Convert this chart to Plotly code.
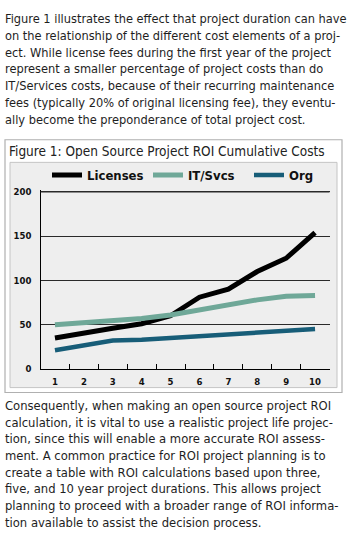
import plotly.graph_objects as go

years = ["1", "2", "3", "4", "5", "6", "7", "8", "9", "10"]
licenses = [35, 41, 46, 51, 60, 81, 90, 110, 125, 154]
it_svcs = [50, 52, 54, 57, 61, 67, 73, 78, 82, 83]
org = [21, 27, 32, 33, 35, 37, 39, 41, 43, 45]
y_ticks = [0, 50, 100, 150, 200]

W, H = 350, 549
FONT = "Liberation Sans Narrow, DejaVu Sans Condensed, Arial Narrow, sans-serif"
TXT = "#1e1e1e"

top_lines = ["Figure 1 illustrates the effect that project duration can have",
             "on the relationship of the different cost elements of a proj-",
             "ect. While license fees during the first year of the project",
             "represent a smaller percentage of project costs than do",
             "IT/Services costs, because of their recurring maintenance",
             "fees (typically 20% of original licensing fee), they eventu-",
             "ally become the preponderance of total project cost."]
bottom_lines = ["Consequently, when making an open source project ROI",
                "calculation, it is vital to use a realistic project life projec-",
                "tion, since this will enable a more accurate ROI assess-",
                "ment. A common practice for ROI project planning is to",
                "create a table with ROI calculations based upon three,",
                "five, and 10 year project durations. This allows project",
                "planning to proceed with a broader range of ROI informa-",
                "tion available to assist the decision process."]

def px(x):
    return x / W

def py(y):
    return 1 - y / H

fig = go.Figure()
fig.add_trace(go.Scatter(x=years, y=licenses, name="Licenses", mode="lines",
                         line=dict(color="#000000", width=5)))
fig.add_trace(go.Scatter(x=years, y=it_svcs, name="IT/Svcs", mode="lines",
                         line=dict(color="#6fa898", width=5)))
fig.add_trace(go.Scatter(x=years, y=org, name="Org", mode="lines",
                         line=dict(color="#175d78", width=4.5)))

shapes = [
    dict(type="rect", xref="paper", yref="paper", x0=px(5), x1=px(342), y0=py(395), y1=py(138),
         line=dict(color="#b0b0b0", width=1.2), fillcolor="#ffffff", layer="below"),
    dict(type="rect", xref="paper", yref="paper", x0=px(10), x1=px(337), y0=py(390), y1=py(161),
         line=dict(color="#c4c4c4", width=1), fillcolor="#eeeeee", layer="below"),
    # top frame line at the highest y tick (paper-referenced so it is never clipped)
    dict(type="line", xref="paper", yref="paper", x0=px(40.5), x1=px(329.5),
         y0=py(191), y1=py(191), line=dict(color="#2a2a2a", width=1.2), layer="above"),
]

annotations = []
for i, t in enumerate(top_lines):
    annotations.append(dict(text=t, xref="paper", yref="paper", x=px(3), y=py(15 + 17 * i),
                            xanchor="left", yanchor="middle", align="left", showarrow=False,
                            font=dict(family=FONT, size=12.7, color=TXT)))
for i, t in enumerate(bottom_lines):
    annotations.append(dict(text=t, xref="paper", yref="paper", x=px(3), y=py(408 + 17 * i),
                            xanchor="left", yanchor="middle", align="left", showarrow=False,
                            font=dict(family=FONT, size=12.9, color=TXT)))
annotations.append(dict(text="Figure 1: Open Source Project ROI Cumulative Costs", xref="paper", yref="paper",
                        x=px(7), y=py(149.5), xanchor="left", yanchor="middle", showarrow=False,
                        font=dict(family=FONT, size=13.5, color="#222222")))

fig.update_layout(
    width=W, height=H,
    margin=dict(l=0, r=0, t=0, b=0),
    paper_bgcolor="#ffffff",
    plot_bgcolor="rgba(0,0,0,0)",
    shapes=shapes,
    annotations=annotations,
    showlegend=True,
    legend=dict(orientation="h", x=px(47), y=py(174), xanchor="left", yanchor="middle",
                bgcolor="rgba(0,0,0,0)", entrywidth=56, entrywidthmode="pixels",
                font=dict(family=FONT, size=13, color="#111111", weight="bold"),
                itemwidth=30, tracegroupgap=0),
    xaxis=dict(domain=[px(40.5), px(329.5)], type="category", range=[-0.5, 9.5],
               showline=True, linecolor="#000000", linewidth=1.3,
               ticks="inside", tickson="boundaries", ticklen=5, tickcolor="#000000",
               ticklabelstandoff=4,
               tickfont=dict(family=FONT, size=9.5, color="#111111", weight="bold"),
               showgrid=False, zeroline=False, fixedrange=True),
    yaxis=dict(domain=[py(371), py(189.2)], range=[0, 202], tickvals=y_ticks,
               showline=True, linecolor="#000000", linewidth=1.3,
               showgrid=True, gridcolor="#2a2a2a", gridwidth=1,
               ticks="", ticklabelstandoff=6,
               tickfont=dict(family=FONT, size=9.5, color="#111111", weight="bold"),
               zeroline=False, fixedrange=True),
)

fig.write_html("out.html")
